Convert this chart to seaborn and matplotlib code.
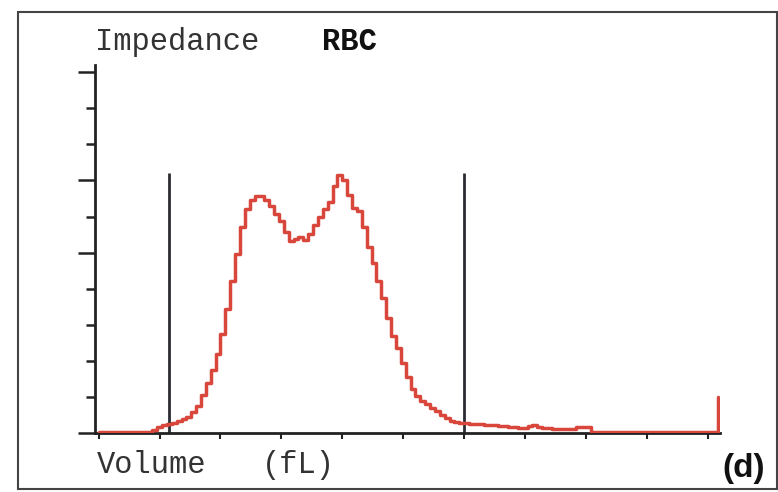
import matplotlib
matplotlib.use("Agg")
import matplotlib.pyplot as plt
from matplotlib.patches import Rectangle
from matplotlib.ticker import FixedLocator
import numpy as np
import pandas as pd
import seaborn as sns

bin_width = 2
rbc_counts = [
    0.3, 0.3, 0.3, 0.3, 0.3, 0.3, 0.3, 0.3, 0.3, 0.3, 0.3,
    0.8, 1.6, 2.2, 2.6, 2.9, 3.3, 3.9, 4.5, 5.8, 7.6,
    10.5, 13.8, 17.5, 21.8, 27.5, 34.5, 42.0, 49.5, 57.0, 62.0,
    64.5, 65.6, 65.8, 64.6, 62.8, 60.8, 58.8, 55.6, 53.2, 53.8,
    54.2, 53.4, 55.2, 57.6, 60.0, 62.2, 64.0, 68.5, 71.6, 70.2,
    66.0, 62.4, 61.4, 57.0, 51.5, 47.0, 42.0, 37.5, 32.0, 27.0,
    23.5, 19.5, 15.5, 12.3, 10.2, 9.0, 8.0, 7.0, 6.0, 5.0,
    4.1, 3.4, 3.0, 2.9, 2.7, 2.6, 2.5, 2.4, 2.3, 2.2,
    2.1, 2.0, 1.9, 1.8, 1.6, 1.5, 1.5, 2.0, 2.3, 1.8,
    1.4, 1.3, 1.2, 1.1, 1.1, 1.2, 1.2, 1.6, 1.7, 1.6,
    0.3, 0.3, 0.3, 0.3, 0.3, 0.3, 0.3, 0.3, 0.3, 0.3, 0.3, 0.3, 0.3,
    0.3, 0.3, 0.3, 0.3, 0.3, 0.3, 0.3, 0.3, 0.3, 0.3, 0.3, 0.3, 0.3,
]
# overflow channel spike at the right end
overflow_volume = 254.3
overflow_count = 10.0

# discriminator lines
discriminators = [29, 150]
discriminator_top = 72

x_ticks = [0, 25, 50, 75, 100, 125, 150, 175, 200, 225, 250]
y_major = [0, 50, 70, 100]
y_minor = [10, 20, 30, 40, 60, 80, 90]

volumes = list(np.arange(len(rbc_counts)) * bin_width) + [overflow_volume]
counts = rbc_counts + [overflow_count]
df = pd.DataFrame({"volume": volumes, "count": counts})

sns.set_style("white")
plt.rcParams["font.family"] = ["Liberation Mono", "DejaVu Sans Mono"]

fig = plt.figure(figsize=(7.78, 4.92), dpi=100)
ax = fig.add_axes([95 / 778, 59 / 492, 625 / 778, 368 / 492])

ax.vlines(discriminators, 0, discriminator_top, color="#2b2b33", lw=2.0, zorder=2)
sns.lineplot(data=df, x="volume", y="count", ax=ax, color="#d8463c",
             lw=2.5, drawstyle="steps-post", zorder=3)

ax.set_xlim(-1.5, 255)
ax.set_ylim(0, 102)
ax.set_xlabel("")
ax.set_ylabel("")

for s in ["top", "right"]:
    ax.spines[s].set_visible(False)
for s in ["left", "bottom"]:
    ax.spines[s].set_color("#222222")
    ax.spines[s].set_linewidth(2.0)

ax.set_xticks(x_ticks)
ax.set_xticklabels([])
ax.yaxis.set_major_locator(FixedLocator(y_major))
ax.yaxis.set_minor_locator(FixedLocator(y_minor))
ax.set_yticklabels([])
ax.tick_params(axis="x", direction="out", length=4, width=1.5, color="#222222", bottom=True)
ax.tick_params(axis="y", which="major", direction="out", length=12, width=1.8, color="#222222", left=True)
ax.tick_params(axis="y", which="minor", direction="out", length=6.5, width=1.8, color="#222222", left=True)

# header and axis caption in printer style
fig.text(95 / 778, 1 - 42 / 492, "Impedance", fontsize=22, color="#333333",
         va="center", ha="left")
fig.text(322 / 778, 1 - 42 / 492, "RBC", fontsize=22, color="#111111",
         fontweight="bold", va="center", ha="left")
fig.text(97 / 778, 1 - 465 / 492, "Volume", fontsize=22, color="#333333",
         va="center", ha="left")
fig.text(262 / 778, 1 - 465 / 492, "(fL)", fontsize=22, color="#333333",
         va="center", ha="left")
fig.text(744 / 778, 1 - 468 / 492, "(d)", fontsize=24, fontweight="bold",
         family=["Liberation Sans", "DejaVu Sans"], color="#111111",
         va="center", ha="center")

# scanned page border
fig.patches.append(Rectangle((18 / 778, 3 / 492), 759 / 778, 477 / 492,
                             transform=fig.transFigure, fill=False,
                             edgecolor="#444444", lw=1.5))

fig.savefig("out.png", dpi=100)
